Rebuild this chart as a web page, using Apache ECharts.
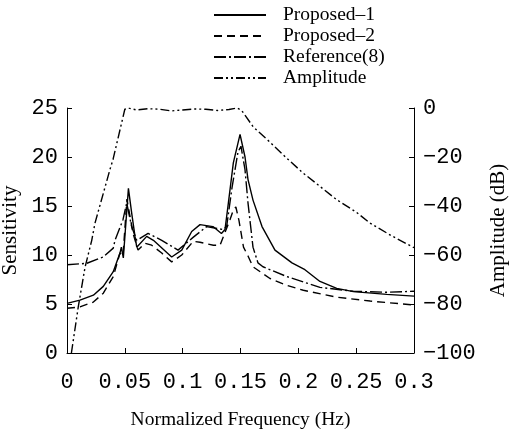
<!DOCTYPE html>
<html>
<head>
<meta charset="utf-8">
<script src="https://cdn.jsdelivr.net/npm/echarts@6/dist/echarts.min.js"></script>
<style>html,body{margin:0;padding:0;background:#fff;}#c{width:509px;height:434px;}</style>
</head>
<body>
<div id="c"></div>
<script>
// Series names
const seriesNames = ['Proposed–1', 'Proposed–2', 'Reference(8)', 'Amplitude'];

// Proposed-1 (solid), sensitivity
const p1X = [0, 0.0112, 0.0228, 0.0314, 0.04, 0.0458, 0.047, 0.0487, 0.0531, 0.0559, 0.0588, 0.0603, 0.0689, 0.0747, 0.0905, 0.0992, 0.1078, 0.115, 0.1262, 0.1335, 0.1366, 0.1395, 0.1438, 0.1496, 0.1539, 0.1565, 0.1608, 0.1686, 0.1798, 0.1945, 0.2057, 0.2187, 0.2332, 0.2476, 0.2765, 0.3];
const p1Y = [5.07, 5.4, 5.9, 6.8, 8.3, 10.2, 10.8, 9.7, 16.8, 14.3, 11.9, 10.8, 11.9, 11.5, 9.8, 10.5, 12.4, 13.1, 12.9, 12.2, 12.6, 15.3, 19.4, 22.3, 20.0, 17.7, 15.6, 12.9, 10.5, 9.2, 8.5, 7.3, 6.6, 6.26, 5.98, 5.8];

// Proposed-2 (dashed), sensitivity
const p2X = [0, 0.0112, 0.0228, 0.0314, 0.04, 0.0458, 0.0484, 0.0518, 0.0571, 0.0614, 0.0674, 0.0732, 0.0819, 0.0905, 0.0992, 0.1092, 0.115, 0.1265, 0.1323, 0.1409, 0.1438, 0.146, 0.1487, 0.1526, 0.1565, 0.1608, 0.1755, 0.19, 0.2043, 0.233, 0.2621, 0.3];
const p2Y = [4.56, 4.7, 5.2, 6.1, 7.8, 10.2, 9.9, 15.7, 12.2, 10.5, 11.2, 11.0, 10.2, 9.3, 10.0, 11.4, 11.3, 11.0, 11.0, 13.6, 14.6, 14.9, 13.5, 10.8, 9.9, 8.8, 7.6, 6.9, 6.4, 5.7, 5.3, 4.9];

// Reference(8) (dash-dot), sensitivity
const r8X = [0, 0.017, 0.0314, 0.04, 0.0415, 0.0484, 0.0516, 0.0559, 0.0603, 0.0701, 0.0819, 0.096, 0.109, 0.1207, 0.1349, 0.138, 0.1427, 0.1478, 0.1504, 0.1539, 0.1565, 0.1608, 0.1651, 0.1694, 0.19, 0.2187, 0.2476, 0.2765, 0.3];
const r8Y = [9.0, 9.15, 9.8, 10.7, 11.5, 13.6, 15.3, 12.9, 11.5, 12.2, 11.5, 10.5, 11.8, 12.9, 12.6, 12.9, 16.9, 20.5, 21.1, 18.7, 15.3, 10.8, 9.2, 8.8, 7.8, 6.7, 6.3, 6.2, 6.3];

// Amplitude (dash-dot-dot), dB
const ampX = [0.0038, 0.0098, 0.0156, 0.0214, 0.0242, 0.0372, 0.0398, 0.05, 0.053, 0.06, 0.07, 0.08, 0.09, 0.1, 0.11, 0.12, 0.13, 0.14, 0.147, 0.151, 0.161, 0.1756, 0.19, 0.204, 0.22, 0.2334, 0.25, 0.262, 0.28, 0.3];
const ampY = [-100, -81, -65, -54, -47, -25, -21, -0.5, 0, -0.8, -0.3, -0.5, -1.2, -0.8, -0.4, -0.5, -1.0, -0.6, 0, -1.0, -7.7, -14, -20.5, -26.5, -32.5, -37.5, -42.5, -47, -52, -57];

// Axis tick labels
const xTicks = ['0', '0.05', '0.1', '0.15', '0.2', '0.25', '0.3'];
const leftTicks = ['0', '5', '10', '15', '20', '25'];
const rightTicks = ['−100', '−80', '−60', '−40', '−20', '0'];

function zip(xs, ys) { return xs.map((x, i) => [x, ys[i]]); }

const monoFont = 'Liberation Mono';
const serif = 'Liberation Serif';
const black = '#000';

const chart = echarts.init(document.getElementById('c'), null, {renderer: 'canvas'});
chart.setOption({
  animation: false,
  backgroundColor: '#fff',
  grid: {left: 67, right: 95, top: 108, bottom: 81, containLabel: false, outerBoundsMode: 'none'},
  legend: {
    orient: 'vertical',
    left: 213,
    top: 5,
    padding: 0,
    itemWidth: 52,
    itemHeight: 14,
    itemGap: 1,
    data: seriesNames,
    itemStyle: {color: 'rgba(0,0,0,0)', borderWidth: 0, opacity: 0},
    textStyle: {fontFamily: serif, fontSize: 19.5, color: black, padding: [0, 0, 0, 12]}
  },
  xAxis: {
    type: 'value',
    min: 0, max: 0.3, interval: 0.05,
    name: 'Normalized Frequency (Hz)',
    nameLocation: 'middle',
    nameGap: 57,
    nameTextStyle: {fontFamily: serif, fontSize: 19.5, color: black},
    axisLine: {show: true, lineStyle: {color: black, width: 1}},
    axisTick: {show: true, inside: true, length: 5, lineStyle: {color: black}},
    splitLine: {show: false},
    axisLabel: {
      margin: 18,
      fontFamily: monoFont, fontSize: 22, color: black,
      formatter: function (v) { return xTicks[Math.round(v / 0.05)]; }
    }
  },
  yAxis: [{
    type: 'value',
    position: 'left',
    min: 0, max: 25, interval: 5,
    name: 'Sensitivity',
    nameLocation: 'middle',
    nameRotate: 90,
    nameGap: 43,
    nameTextStyle: {fontFamily: serif, fontSize: 21, color: black},
    axisLine: {show: true, lineStyle: {color: black, width: 1}},
    axisTick: {show: true, inside: true, length: 5, lineStyle: {color: black}},
    splitLine: {show: false},
    axisLabel: {
      margin: 9,
      fontFamily: monoFont, fontSize: 22, color: black,
      formatter: function (v) { return leftTicks[Math.round(v / 5)]; }
    }
  }, {
    type: 'value',
    position: 'right',
    min: -100, max: 0, interval: 20,
    name: 'Amplitude (dB)',
    nameLocation: 'middle',
    nameRotate: 90,
    nameGap: 74,
    nameTextStyle: {fontFamily: serif, fontSize: 21, color: black},
    axisLine: {show: true, lineStyle: {color: black, width: 1}},
    axisTick: {show: true, inside: true, length: 5, lineStyle: {color: black}},
    splitLine: {show: false},
    axisLabel: {
      margin: 9,
      fontFamily: monoFont, fontSize: 22, color: black,
      formatter: function (v) { return rightTicks[Math.round((v + 100) / 20)]; }
    }
  }],
  series: [{
    name: seriesNames[0], type: 'line', yAxisIndex: 0, showSymbol: false, symbol: 'none',
    lineStyle: {color: black, width: 1.4, type: 'solid'}, itemStyle: {color: black},
    data: zip(p1X, p1Y)
  }, {
    name: seriesNames[1], type: 'line', yAxisIndex: 0, showSymbol: false, symbol: 'none',
    lineStyle: {color: black, width: 1.4, type: [8, 5]}, itemStyle: {color: black},
    data: zip(p2X, p2Y)
  }, {
    name: seriesNames[2], type: 'line', yAxisIndex: 0, showSymbol: false, symbol: 'none',
    lineStyle: {color: black, width: 1.4, type: [12, 3, 2, 3]}, itemStyle: {color: black},
    data: zip(r8X, r8Y)
  }, {
    name: seriesNames[3], type: 'line', yAxisIndex: 1, showSymbol: false, symbol: 'none',
    lineStyle: {color: black, width: 1.4, type: [9, 3, 2, 3, 2, 3]}, itemStyle: {color: black},
    data: zip(ampX, ampY)
  }]
});
</script>
</body>
</html>
